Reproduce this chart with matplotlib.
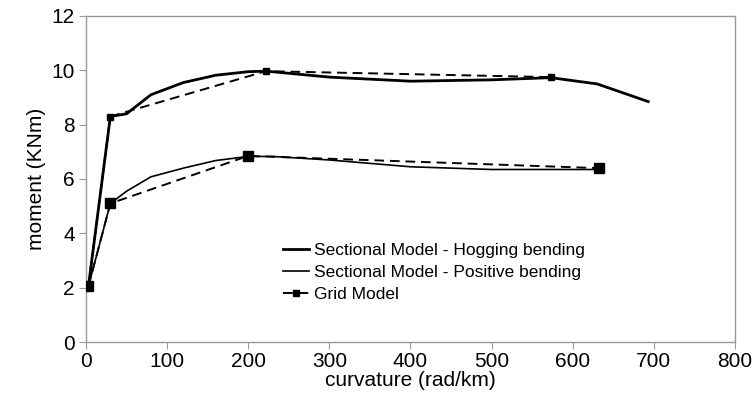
import matplotlib.pyplot as plt

plt.rcParams['font.family'] = ['Liberation Sans', 'DejaVu Sans']

# sectional model, hogging bending
hog_x = [3, 30, 50, 80, 120, 160, 200, 222, 300, 400, 500, 573, 630, 693]
hog_y = [2.05, 8.3, 8.4, 9.1, 9.55, 9.82, 9.95, 9.97, 9.75, 9.6, 9.65, 9.73, 9.5, 8.85]

# sectional model, positive bending
pos_x = [3, 30, 50, 80, 120, 160, 200, 230, 300, 400, 500, 630]
pos_y = [2.05, 5.1, 5.55, 6.08, 6.4, 6.68, 6.83, 6.83, 6.7, 6.45, 6.35, 6.35]

# grid model
grid_hog_x = [3, 30, 222, 573]
grid_hog_y = [2.05, 8.3, 9.97, 9.75]
grid_pos_x = [3, 30, 200, 632]
grid_pos_y = [2.05, 5.1, 6.85, 6.4]

fig = plt.figure(figsize=(7.55, 4.07), dpi=100)
ax = fig.add_axes([0.1139, 0.1597, 0.8596, 0.801])

ax.plot(hog_x, hog_y, color='black', lw=2.0, label='Sectional Model - Hogging bending', zorder=3)
ax.plot(pos_x, pos_y, color='black', lw=1.2, label='Sectional Model - Positive bending', zorder=3)
ax.plot(grid_hog_x, grid_hog_y, color='black', lw=1.4, ls=(0, (5, 3)), marker='s', ms=5,
        label='Grid Model', zorder=4)
ax.plot(grid_pos_x, grid_pos_y, color='black', lw=1.4, ls=(0, (5, 3)), marker='s', ms=7, zorder=4)

ax.set_xlim(0, 800)
ax.set_ylim(0, 12)
ax.set_xticks(range(0, 801, 100))
ax.set_yticks(range(0, 13, 2))

for s in ax.spines.values():
    s.set_color('#999999')
    s.set_linewidth(1.0)
ax.tick_params(direction='out', length=5, color='#999999', labelsize=15, pad=2)
ax.tick_params(axis='y', pad=3)

ax.set_xlabel('curvature (rad/km)', fontsize=15, labelpad=0)
ax.set_ylabel('moment (KNm)', fontsize=15, labelpad=4)

ax.legend(loc='upper left', bbox_to_anchor=(0.29, 0.33), frameon=False, fontsize=12.5,
          handlelength=1.5, handletextpad=0.3, labelspacing=0.4, borderpad=0)

fig.savefig('out.png', dpi=100)
